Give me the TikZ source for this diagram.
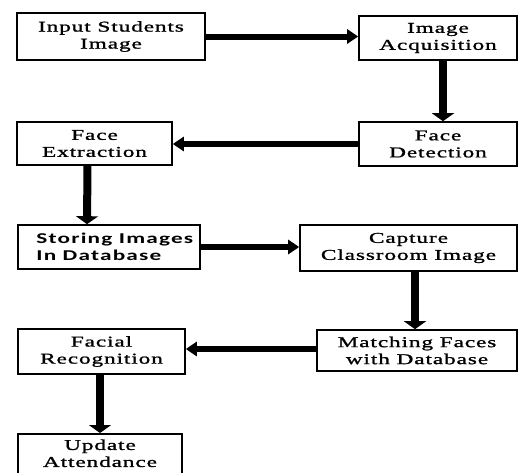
\documentclass[tikz,border=0pt]{standalone}
\usepackage{fontspec}
\setmainfont{Liberation Serif}[FakeStretch=1.55, LetterSpace=6, FakeBold=1.2]
\newfontfamily\sansbox{Carlito}[FakeStretch=1.55, LetterSpace=8]
\usetikzlibrary{arrows.meta,calc}
\begin{document}
\begin{tikzpicture}[x=1pt,y=-1pt,
  box/.style={draw=black, line width=1.6pt, fill=white, align=center, inner sep=0pt,
    font=\fontsize{15}{17}\selectfont},
  harrow/.style={line width=6pt, -{Triangle[length=11pt,width=14pt]}},
  varrow/.style={line width=8pt, -{Triangle[length=8pt,width=22pt]}}]
\useasboundingbox (0,0) rectangle (519,472);
\node[box, minimum width=188pt, minimum height=47pt] (b1) at (111,36.5) {Input Students\\Image};
\node[box, minimum width=158pt, minimum height=44pt] (b2) at (438,38) {Image\\Acquisition};
\node[box, minimum width=158pt, minimum height=44pt] (b3) at (438,144) {Face\\Detection};
\node[box, minimum width=155pt, minimum height=43pt] (b4) at (94.5,143.5) {Face\\Extraction};
\node[box, minimum width=182pt, minimum height=44pt] (b5) at (109,247) {};
\node[align=left, anchor=west, inner sep=0pt,
  font=\sansbox\fontsize{15}{17}\selectfont\bfseries] (t5) at ($(b5.west)+(19,0)$) {Storing Images\\In Database};
\node[box, minimum width=217pt, minimum height=46pt] (b6) at (408.5,248) {Capture\\Classroom Image};
\node[box, minimum width=200pt, minimum height=41pt] (b7) at (417,350.5) {Matching Faces\\with Database};
\node[box, minimum width=167pt, minimum height=45pt] (b8) at (101.5,351.5) {Facial\\Recognition};
\node[box, minimum width=164pt, minimum height=57pt, anchor=north] (b9) at (100,433) {};
\node[font=\fontsize{15}{17}\selectfont, align=center, anchor=north] (t9) at (100,436) {Update\\Attendance};
\draw[harrow] (b1.east) -- (b2.west |- b1.east);
\draw[varrow] ($(b2.south)+(5,0)$) -- ($(b3.north)+(5,0)$);
\draw[harrow] (b3.west) -- (b4.east |- b3.west);
\draw[varrow] ($(b4.south)+(-7,0)$) -- ($(b5.north)+(-22,0)$);
\draw[harrow] (b5.east) -- (b6.west |- b5.east);
\draw[varrow] ($(b6.south)+(6.5,0)$) -- ($(b7.north)+(-2,0)$);
\draw[harrow] ($(b7.west)+(0,-1.5)$) -- ($(b8.east |- b7.west)+(0,-1.5)$);
\draw[varrow] ($(b8.south)+(-1.5,0)$) -- (b9.north);
\end{tikzpicture}
\end{document}
